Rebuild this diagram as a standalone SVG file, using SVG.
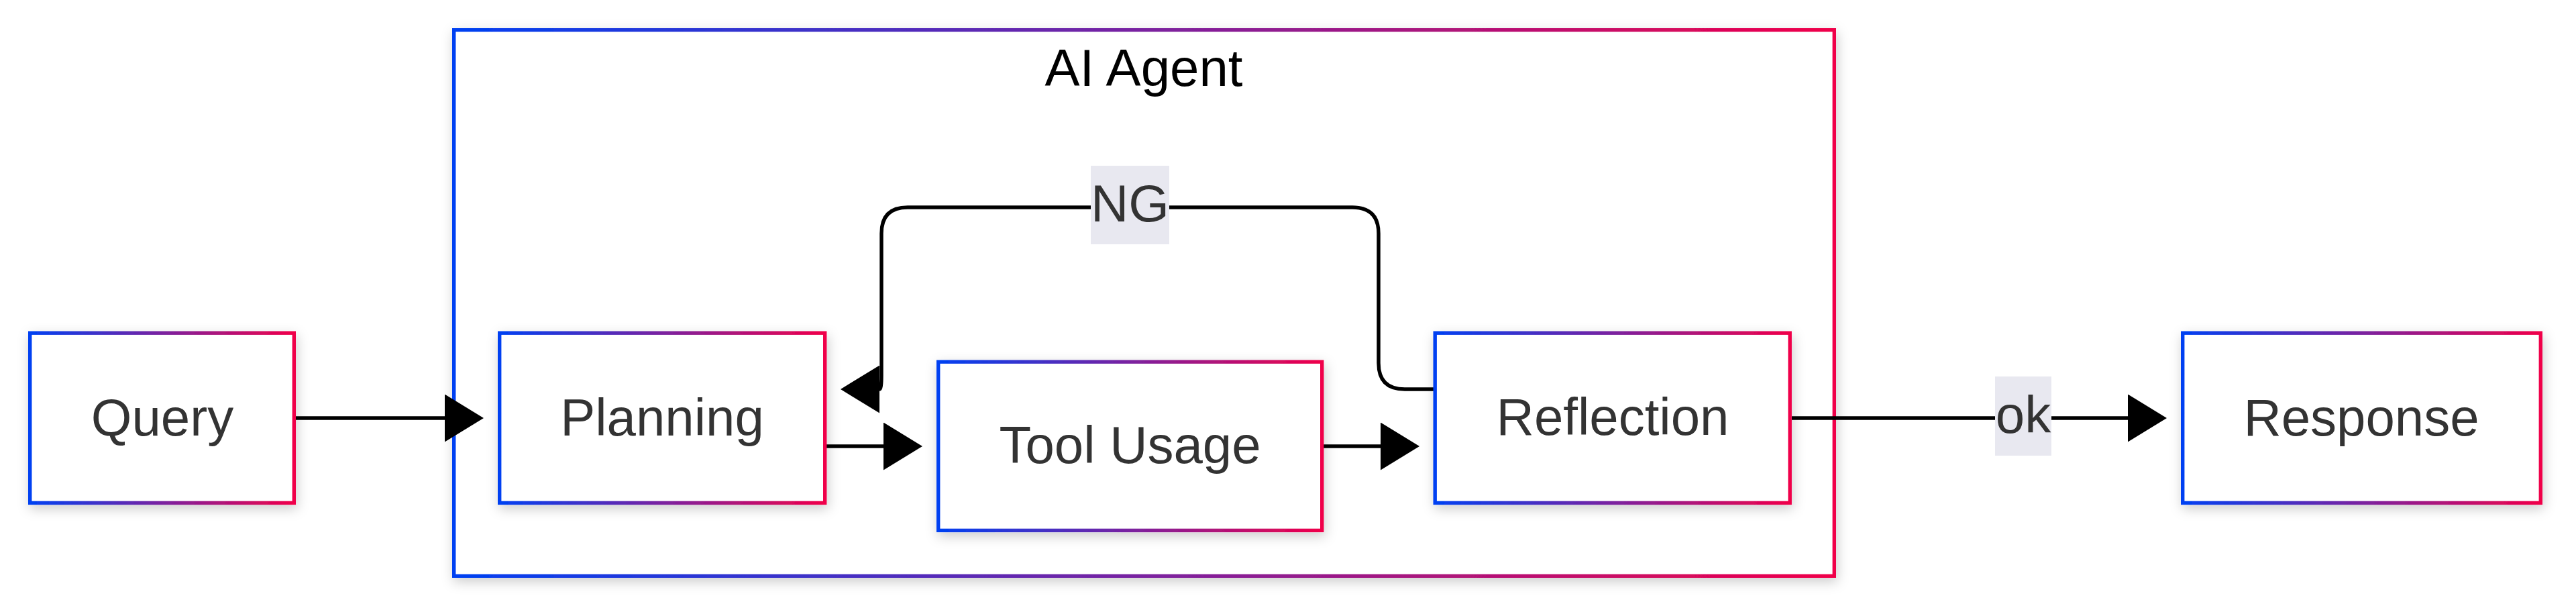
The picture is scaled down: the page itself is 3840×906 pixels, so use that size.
<svg xmlns="http://www.w3.org/2000/svg" width="3840" height="906" viewBox="0 0 3840 906">
  <style>
    .box { fill: #ffffff; stroke: url(#grad); stroke-width: 5.4; filter: url(#shadow); }
    .txt { font-family: "Liberation Sans", Arial, sans-serif; font-size: 78px; fill: #333333; text-anchor: middle; }
    .title { font-family: "Liberation Sans", Arial, sans-serif; font-size: 78px; fill: #000000; text-anchor: middle; }
    .edge { fill: none; stroke: #000000; stroke-width: 5.4; }
    .lblbg { fill: #e8e8f0; }
  </style>
  <defs>
    <linearGradient id="grad" x1="0" y1="0" x2="1" y2="0">
      <stop offset="0" stop-color="#0040f2"/>
      <stop offset="0.5" stop-color="#7a22a0"/>
      <stop offset="1" stop-color="#f0004a"/>
    </linearGradient>
    <filter id="shadow" x="-20%" y="-20%" width="140%" height="150%">
      <feDropShadow dx="2" dy="6" stdDeviation="9" flood-color="#000000" flood-opacity="0.2"/>
    </filter>
    <marker id="arrow" viewBox="0 0 10 10" refX="0" refY="5" markerUnits="userSpaceOnUse" markerWidth="58" markerHeight="71" orient="auto" preserveAspectRatio="none">
      <path d="M0,0 L10,5 L0,10 z" fill="#000000"/>
    </marker>
  </defs>
  <rect width="3840" height="906" fill="#ffffff"/>

  <g id="cluster-ai-agent">
    <rect class="box" x="676.7" y="44.7" width="2057.6" height="813.6"/>
    <text class="title" x="1705" y="128">AI Agent</text>
  </g>

  <g id="connectors">
    <path class="edge" d="M441,623 L663,623" marker-end="url(#arrow)"/>
    <path class="edge" d="M1232,665 L1317,665" marker-end="url(#arrow)"/>
    <path class="edge" d="M1973,665 L2058,665" marker-end="url(#arrow)"/>
    <path class="edge" d="M2671,623 L3172,623" marker-end="url(#arrow)"/>
    <path class="edge" d="M2137,580 L2094,580 Q2055,580 2055,541 L2055,348 Q2055,309 2016,309 L1353,309 Q1314,309 1314,348 L1314,560 Q1314,580 1311,580" marker-end="url(#arrow)"/>
    <g id="label-ng">
      <rect class="lblbg" x="1626" y="247" width="117" height="117"/>
      <text class="txt" x="1684.5" y="330">NG</text>
    </g>
    <g id="label-ok">
      <rect class="lblbg" x="2974" y="561" width="84" height="118"/>
      <text class="txt" x="3016" y="645">ok</text>
    </g>
  </g>

  <g id="node-query">
    <rect class="box" x="44.7" y="496.2" width="393.6" height="253.2"/>
    <text class="txt" x="242" y="649">Query</text>
  </g>
  <g id="node-planning">
    <rect class="box" x="744.7" y="496.2" width="485" height="253.2"/>
    <text class="txt" x="987" y="649">Planning</text>
  </g>
  <g id="node-tool-usage">
    <rect class="box" x="1398.7" y="539.2" width="572" height="251.2"/>
    <text class="txt" x="1684.5" y="690">Tool Usage</text>
  </g>
  <g id="node-reflection">
    <rect class="box" x="2139.2" y="496.2" width="529" height="253.2"/>
    <text class="txt" x="2404" y="648">Reflection</text>
  </g>
  <g id="node-response">
    <rect class="box" x="3253.7" y="496.2" width="533.6" height="253.2"/>
    <text class="txt" x="3520" y="649">Response</text>
  </g>
</svg>
